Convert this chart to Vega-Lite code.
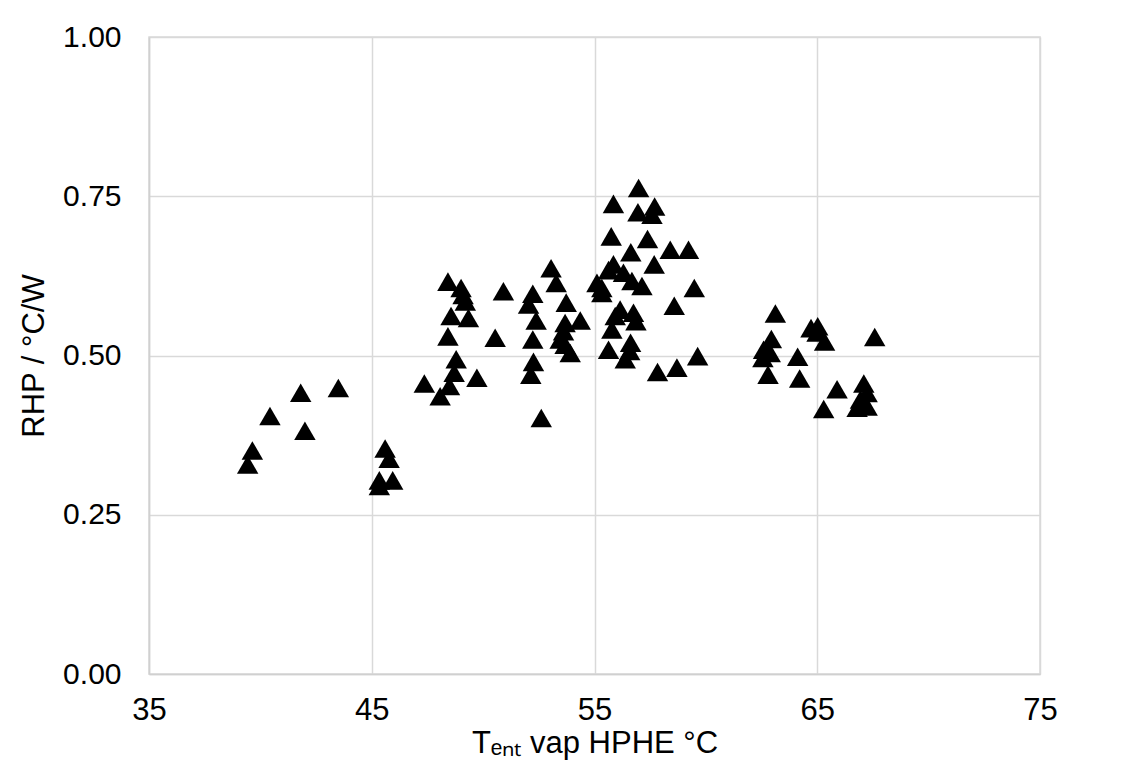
{
  "$schema": "https://vega.github.io/schema/vega-lite/v6.json",
  "autosize": "none",
  "width": 891,
  "height": 637,
  "padding": {"left": 149, "top": 37, "right": 95, "bottom": 87},
  "background": "white",
  "config": {
    "font": "Liberation Sans",
    "view": {"stroke": "#d9d9d9", "strokeWidth": 1.5},
    "axis": {
      "labelFont": "Liberation Sans",
      "titleFont": "Liberation Sans",
      "labelColor": "#000000",
      "titleColor": "#000000",
      "titleFontWeight": "normal",
      "gridColor": "#d9d9d9",
      "gridWidth": 1.5,
      "domainColor": "#d0d0d0",
      "domainWidth": 1.5,
      "ticks": false
    }
  },
  "data": {
    "values": [
      {"t": 39.43, "r": 0.329}, {"t": 39.64, "r": 0.351}, {"t": 40.43, "r": 0.405}, {"t": 41.81, "r": 0.4415}, {"t": 42.0, "r": 0.382}, {"t": 43.5, "r": 0.449},
      {"t": 45.6, "r": 0.354}, {"t": 45.78, "r": 0.338}, {"t": 45.34, "r": 0.304}, {"t": 45.94, "r": 0.304}, {"t": 45.34, "r": 0.295},
      {"t": 48.42, "r": 0.616}, {"t": 49.01, "r": 0.606}, {"t": 49.1, "r": 0.595}, {"t": 49.2, "r": 0.585}, {"t": 50.91, "r": 0.601},
      {"t": 53.05, "r": 0.637}, {"t": 53.28, "r": 0.614}, {"t": 52.23, "r": 0.597}, {"t": 52.04, "r": 0.58}, {"t": 52.38, "r": 0.555},
      {"t": 52.23, "r": 0.525}, {"t": 53.73, "r": 0.583}, {"t": 54.36, "r": 0.555}, {"t": 53.68, "r": 0.551}, {"t": 53.61, "r": 0.538},
      {"t": 53.46, "r": 0.525}, {"t": 53.68, "r": 0.517}, {"t": 53.91, "r": 0.504}, {"t": 48.56, "r": 0.562}, {"t": 49.34, "r": 0.559},
      {"t": 48.42, "r": 0.53}, {"t": 50.54, "r": 0.528}, {"t": 48.79, "r": 0.494}, {"t": 48.7, "r": 0.473}, {"t": 49.72, "r": 0.465},
      {"t": 47.36, "r": 0.456}, {"t": 48.49, "r": 0.452}, {"t": 48.07, "r": 0.436}, {"t": 52.26, "r": 0.49}, {"t": 52.14, "r": 0.47},
      {"t": 52.61, "r": 0.402},
      {"t": 56.98, "r": 0.763}, {"t": 55.85, "r": 0.738}, {"t": 57.7, "r": 0.734}, {"t": 56.95, "r": 0.725}, {"t": 57.58, "r": 0.721},
      {"t": 55.75, "r": 0.687}, {"t": 57.38, "r": 0.683}, {"t": 56.63, "r": 0.662}, {"t": 58.4, "r": 0.666}, {"t": 59.22, "r": 0.666},
      {"t": 57.68, "r": 0.643}, {"t": 55.85, "r": 0.643}, {"t": 55.63, "r": 0.634}, {"t": 56.3, "r": 0.63}, {"t": 56.68, "r": 0.617},
      {"t": 57.13, "r": 0.609}, {"t": 55.11, "r": 0.614}, {"t": 55.33, "r": 0.606}, {"t": 55.33, "r": 0.598}, {"t": 59.48, "r": 0.606},
      {"t": 58.58, "r": 0.578}, {"t": 56.15, "r": 0.572}, {"t": 56.75, "r": 0.567}, {"t": 55.93, "r": 0.562}, {"t": 56.86, "r": 0.554},
      {"t": 55.78, "r": 0.541}, {"t": 55.63, "r": 0.509}, {"t": 56.62, "r": 0.52}, {"t": 56.58, "r": 0.507}, {"t": 56.38, "r": 0.494},
      {"t": 59.63, "r": 0.499}, {"t": 58.7, "r": 0.481}, {"t": 57.83, "r": 0.474},
      {"t": 63.12, "r": 0.566}, {"t": 62.94, "r": 0.526}, {"t": 62.59, "r": 0.509}, {"t": 62.89, "r": 0.504}, {"t": 62.56, "r": 0.496},
      {"t": 62.79, "r": 0.47}, {"t": 64.12, "r": 0.498}, {"t": 64.21, "r": 0.464}, {"t": 64.72, "r": 0.543}, {"t": 65.02, "r": 0.546},
      {"t": 64.99, "r": 0.536}, {"t": 65.33, "r": 0.522}, {"t": 67.58, "r": 0.529}, {"t": 65.89, "r": 0.447}, {"t": 65.29, "r": 0.416},
      {"t": 67.09, "r": 0.456}, {"t": 67.24, "r": 0.441}, {"t": 66.94, "r": 0.431}, {"t": 67.24, "r": 0.42}, {"t": 66.79, "r": 0.418}
    ]
  },
  "mark": {"type": "point", "shape": "triangle-up", "filled": true, "color": "#000000", "opacity": 1, "size": 460},
  "encoding": {
    "x": {
      "field": "t", "type": "quantitative",
      "scale": {"domain": [35, 75], "nice": false, "zero": false},
      "axis": {"values": [35, 45, 55, 65, 75], "labelFontSize": 31, "labelPadding": 21, "labelFlush": false, "title": "Tₑₙₜ vap HPHE °C", "titleFontSize": 31, "titlePadding": 3}
    },
    "y": {
      "field": "r", "type": "quantitative",
      "scale": {"domain": [0, 1], "nice": false},
      "axis": {"values": [0, 0.25, 0.5, 0.75, 1], "format": ".2f", "labelFontSize": 30, "labelPadding": 28, "title": "RHP / °C/W", "titleFontSize": 31, "titlePadding": 12}
    }
  }
}
